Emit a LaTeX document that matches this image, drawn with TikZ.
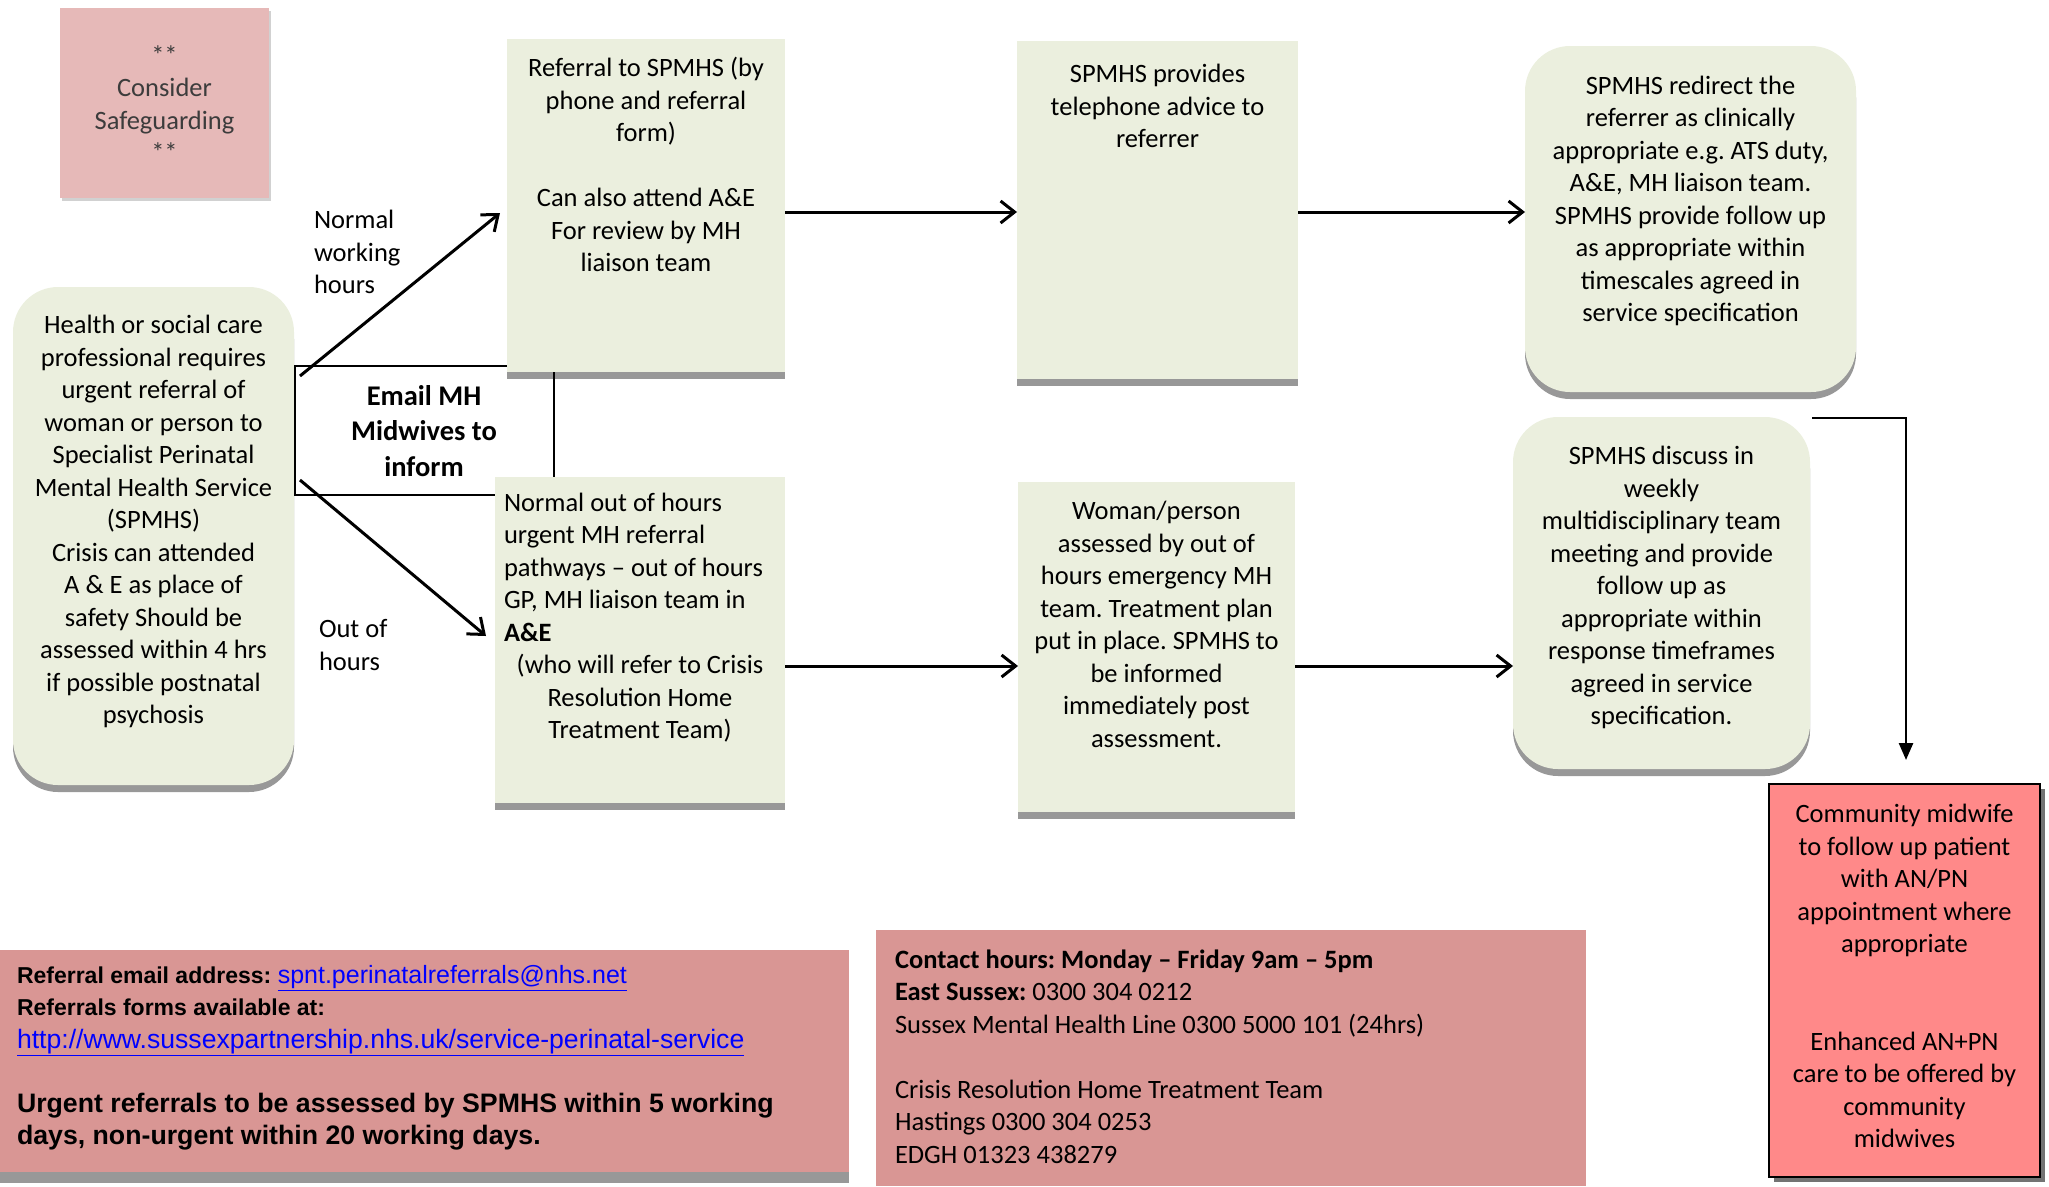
\documentclass[tikz,border=0pt]{standalone}
\usepackage{fontspec}
\setmainfont{Carlito}
\newfontfamily\arialf{Liberation Sans}
\usetikzlibrary{arrows.meta,calc}
\definecolor{boxgreen}{RGB}{235,239,222}
\definecolor{safepink}{RGB}{230,185,184}
\definecolor{infored}{RGB}{217,150,148}
\definecolor{alertred}{RGB}{255,137,137}
\definecolor{shadowgray}{RGB}{152,152,152}
\definecolor{linkblue}{RGB}{0,0,255}
\definecolor{safetext}{RGB}{60,60,60}
\newcommand{\natspace}{\spaceskip=0pt\xspaceskip=0pt\relax}
\frenchspacing
\begin{document}
\frenchspacing
\begin{tikzpicture}[x=1pt,y=-1pt]
\tikzset{
  every node/.style={inner sep=0pt, outer sep=0pt},
  sqbox/.style={fill=boxgreen, preaction={fill=shadowgray, transform canvas={yshift=-7pt}}},
  rbox/.style={sqbox, rounded corners=45pt},
  body/.style={font=\frenchspacing\fontsize{26.5pt}{32.5pt}\selectfont, align=center, text=black},
  arr/.style={line width=3pt, -{Straight Barb[length=14pt,width=22pt]}},
  downarr/.style={line width=2.6pt, -{Triangle[length=17pt,width=14pt]}},
  plainline/.style={line width=2.8pt},
}
\useasboundingbox (0,0) rectangle (2049,1186);

% Safeguarding
\node[fill=safepink, minimum width=209pt, minimum height=190pt,
      preaction={fill=black!18, transform canvas={xshift=2pt,yshift=-3pt}}] (safe) at (164.5,103) {};
\node[body, text=safetext] (safet) at (164.5,103.5) {**\\Consider\\Safeguarding\\**};

% Left box
\node[rbox, minimum width=281pt, minimum height=498pt] (b1) at (153.5,536) {};
\node[body] (t1) at (153.5,521.5) {Health or social care\\professional requires\\urgent referral of\\woman or person to\\Specialist Perinatal\\Mental Health Service\\(SPMHS)\\Crisis can attended\\A \& E as place of\\safety Should be\\assessed within 4 hrs\\if possible postnatal\\psychosis};

% top row
\node[sqbox, minimum width=278pt, minimum height=333pt] (b2) at (646,205.5) {};
\node[body] (t2) at (646,164.5) {Referral to SPMHS (by\\phone and referral\\form)\\[32.5pt]Can also attend A\&E\\For review by MH\\liaison team};

\node[sqbox, minimum width=281pt, minimum height=338pt] (b3) at (1157.5,210) {};
\node[body] (t3) at (1157.5,106) {SPMHS provides\\telephone advice to\\referrer};

\node[rbox, minimum width=331pt, minimum height=346pt] (b4) at (1690.5,219) {};
\node[body] (t4) at (1690.5,201) {SPMHS redirect the\\referrer as clinically\\appropriate e.g. ATS duty,\\A\&E, MH liaison team.\\SPMHS provide follow up\\as appropriate within\\timescales agreed in\\service specification};

% bottom row
\node[sqbox, minimum width=290pt, minimum height=326pt] (b5) at (640,640) {};
\node[body, text width=272pt, align=left] (t5) at (640,617.5) {\natspace Normal out of hours\\urgent MH referral\\pathways – out of hours\\GP, MH liaison team in\\\textbf{A\&E}\par\centering (who will refer to Crisis\\Resolution Home\\Treatment Team)\par};

\node[sqbox, minimum width=277pt, minimum height=330pt] (b6) at (1156.5,647) {};
\node[body] (t6) at (1156.5,624.5) {Woman/person\\assessed by out of\\hours emergency MH\\team. Treatment plan\\put in place. SPMHS to\\be informed\\immediately post\\assessment.};

\node[rbox, minimum width=297pt, minimum height=352pt] (b7) at (1661.5,593) {};
\node[body] (t7) at (1661.5,587.5) {SPMHS discuss in\\weekly\\multidisciplinary team\\meeting and provide\\follow up as\\appropriate within\\response timeframes\\agreed in service\\specification.};

\node[draw=black, line width=2pt, fill=alertred, minimum width=271pt, minimum height=393pt,
      preaction={fill=black!55, transform canvas={xshift=5pt,yshift=-5pt}}] (b8) at (1904.5,980.5) {};
\node[body] (t8) at (1904.5,976) {Community midwife\\to follow up patient\\with AN/PN\\appointment where\\appropriate\\[65pt]Enhanced AN+PN\\care to be offered by\\community\\midwives};

% Email MH
\node[body, font=\bfseries\fontsize{28.5pt}{35.5pt}\selectfont] (email) at (424,431) {Email MH\\Midwives to\\inform};
\coordinate (e1) at (295,366);
\coordinate (e2) at (295,495);
\coordinate (vx) at (554,0);
\draw[plainline] (e1 -| b2.west) -- (e1) -- (e2) -- (e2 -| b5.west);
\draw[plainline] (vx |- b2.south) -- (vx |- b5.north);

% labels
\node[body, align=left, anchor=west] (lnormal) at (314,252) {Normal\\working\\hours};
\node[body, align=left, anchor=west] (lout) at (319,645) {Out of\\hours};

% arrows
\draw[arr] ([xshift=6pt,yshift=160pt]b1.east) -- ([xshift=-7pt,yshift=-7.5pt]b2.west);
\draw[arr] ([xshift=6pt,yshift=56pt]b1.east) -- ([xshift=-9pt,yshift=4pt]b5.west);
\draw[arr] ([yshift=-6.5pt]b2.east) -- ([yshift=-6.5pt]b2.east -| b3.west);
\draw[arr] ([yshift=-2pt]b3.east) -- ([yshift=-2pt]b3.east -| b4.west);
\draw[arr] ([yshift=-26pt]b5.east) -- ([yshift=-26pt]b5.east -| b6.west);
\draw[arr] ([yshift=-19pt]b6.east) -- ([yshift=-19pt]b6.east -| b7.west);
\coordinate (b8in) at ([xshift=1.5pt,yshift=24pt]b8.north);
\draw[downarr] ([xshift=2pt,yshift=-1pt]b7.north east) -| (b8in);

% bottom info boxes
\node[fill=infored, minimum width=849pt, minimum height=222pt,
      preaction={fill=shadowgray, transform canvas={yshift=-11pt}}] (bl) at (424.5,1061) {};
\node[anchor=west, text width=830pt, align=left, font=\arialf\fontsize{23pt}{32.5pt}\selectfont] (tbl) at (17,1058)
 {\natspace{\bfseries Referral email address:} {\fontsize{25pt}{32.5pt}\selectfont\color{linkblue}\underline{spnt.perinatalreferrals@nhs.net}}\\
  {\bfseries Referrals forms available at:}\\
  {\fontsize{26.6pt}{32.5pt}\selectfont\color{linkblue}\underline{http://www.sussexpartnership.nhs.uk/service-perinatal-service}}\\[32pt]
  {\fontsize{26.7pt}{32pt}\selectfont\bfseries Urgent referrals to be assessed by SPMHS within 5 working\\days, non-urgent within 20 working days.}\par};

\node[fill=infored, minimum width=710pt, minimum height=256pt] (bm) at (1231,1058) {};
\node[anchor=west, text width=680pt, align=left, font=\frenchspacing\fontsize{26.5pt}{32.5pt}\selectfont] (tbm) at (895,1056.5)
 {\natspace\textbf{Contact hours: Monday – Friday 9am – 5pm}\\
  \textbf{East Sussex:} 0300 304 0212\\
  Sussex Mental Health Line 0300 5000 101 (24hrs)\\[32.5pt]
  Crisis Resolution Home Treatment Team\\
  Hastings 0300 304 0253\\
  EDGH 01323 438279\par};
\end{tikzpicture}
\end{document}
